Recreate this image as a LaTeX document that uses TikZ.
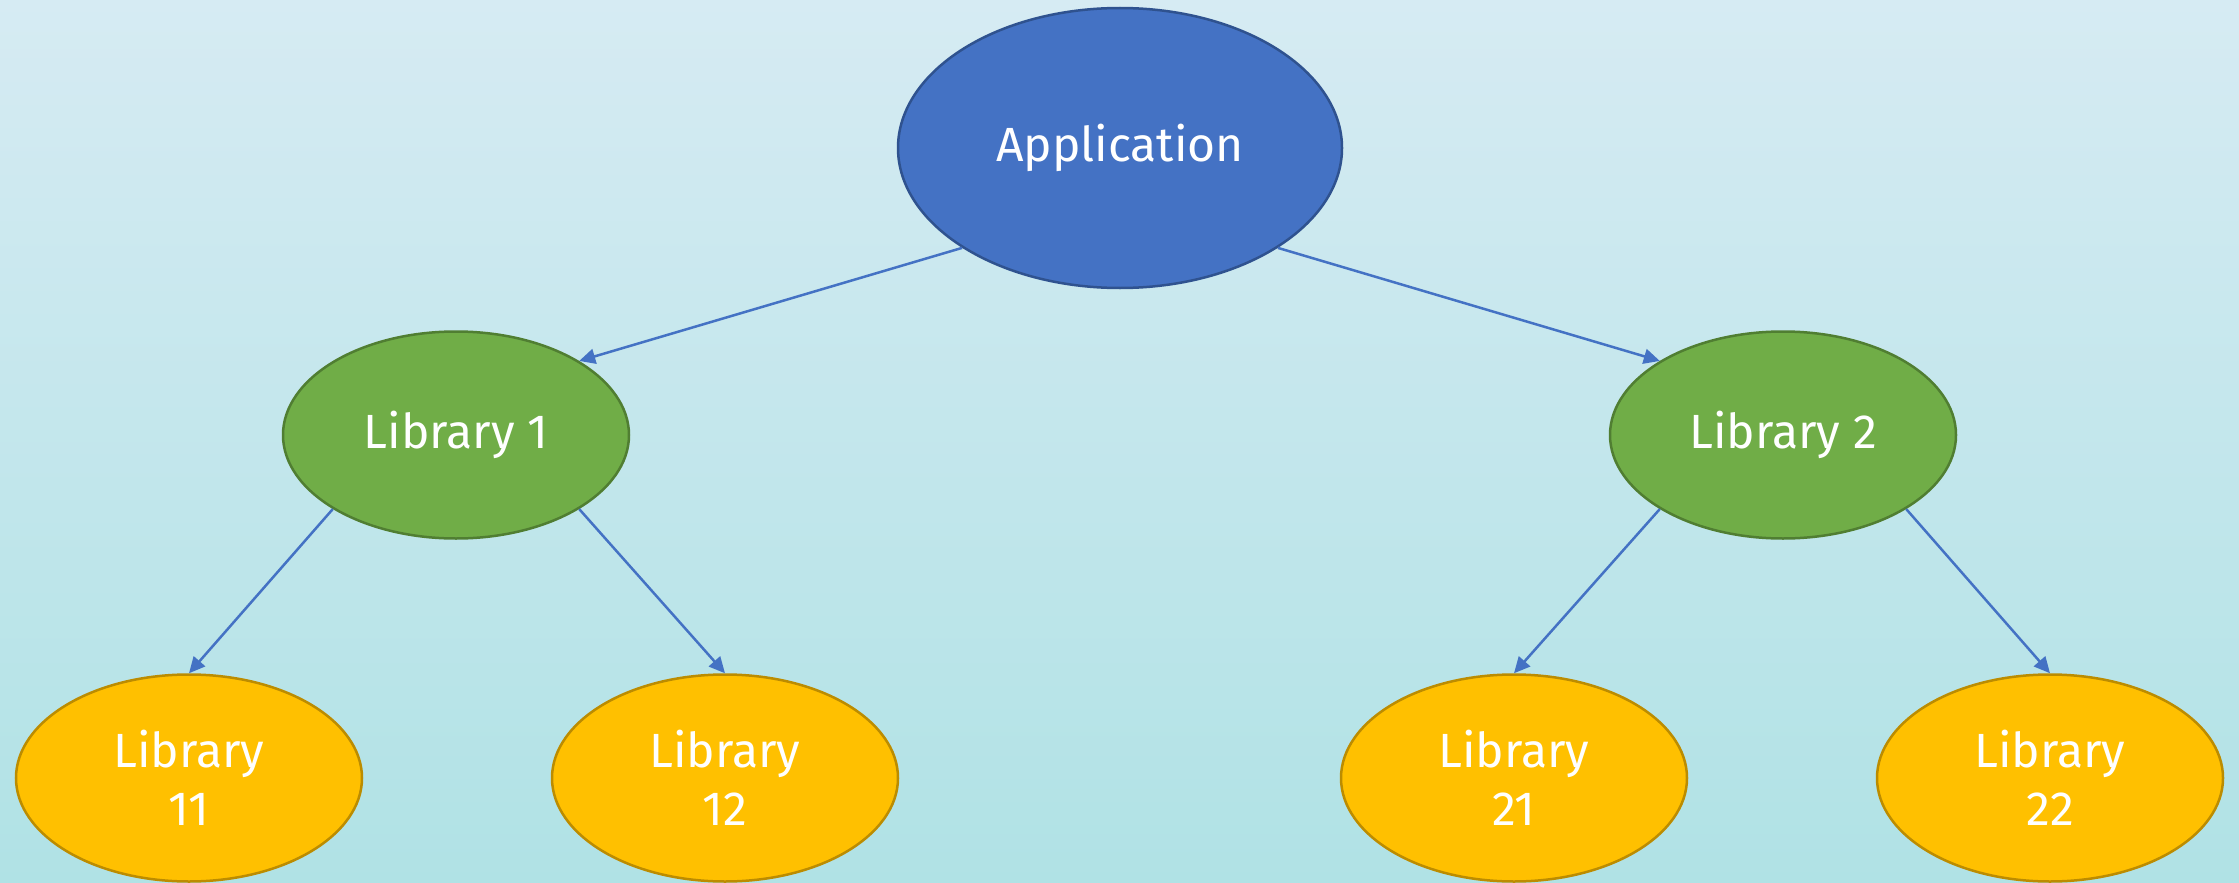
\documentclass[tikz,border=0pt]{standalone}
\usepackage{fontspec}
\setmainfont{Fira Sans}
\usetikzlibrary{shapes.geometric,arrows.meta}
\definecolor{bgtop}{HTML}{D6EBF3}
\definecolor{bgbot}{HTML}{B0E2E5}
\definecolor{appfill}{HTML}{4472C4}
\definecolor{appline}{HTML}{2F528F}
\definecolor{libfill}{HTML}{70AD47}
\definecolor{libline}{HTML}{507E32}
\definecolor{leaffill}{HTML}{FFC000}
\definecolor{leafline}{HTML}{BC8C00}
\definecolor{arrowcol}{HTML}{4472C4}
\tikzset{
  base/.style={ellipse, inner sep=0pt, line width=2.5pt, text=white,
    font=\fontsize{48}{58}\selectfont, align=center},
  appnode/.style={base, fill=appfill, draw=appline, minimum width=444pt, minimum height=280pt},
  libnode/.style={base, fill=libfill, draw=libline, minimum width=346pt, minimum height=207pt},
  leafnode/.style={base, fill=leaffill, draw=leafline, minimum width=346pt, minimum height=207pt},
  conn/.style={draw=arrowcol, line width=2.5pt, -{Triangle[length=16pt,width=15pt]}}
}
\begin{document}
\begin{tikzpicture}[x=1pt,y=-1pt]
\shade[top color=bgtop, bottom color=bgbot] (0,0) rectangle (2239,883);
\useasboundingbox (0,0) rectangle (2239,883);
\node[appnode] (app) at (1120,148) {Application};
\node[libnode] (lib1) at (456,435) {Library 1};
\node[libnode] (lib2) at (1783,435) {Library 2};
\node[leafnode] (l11) at (189,778) {Library\\11};
\node[leafnode] (l12) at (725,778) {Library\\12};
\node[leafnode] (l21) at (1514,778) {Library\\21};
\node[leafnode] (l22) at (2050,778) {Library\\22};
\draw[conn] (app.south west) -- (lib1.north east);
\draw[conn] (app.south east) -- (lib2.north west);
\draw[conn] (lib1.south west) -- (l11.north);
\draw[conn] (lib1.south east) -- (l12.north);
\draw[conn] (lib2.south west) -- (l21.north);
\draw[conn] (lib2.south east) -- (l22.north);
\end{tikzpicture}
\end{document}
